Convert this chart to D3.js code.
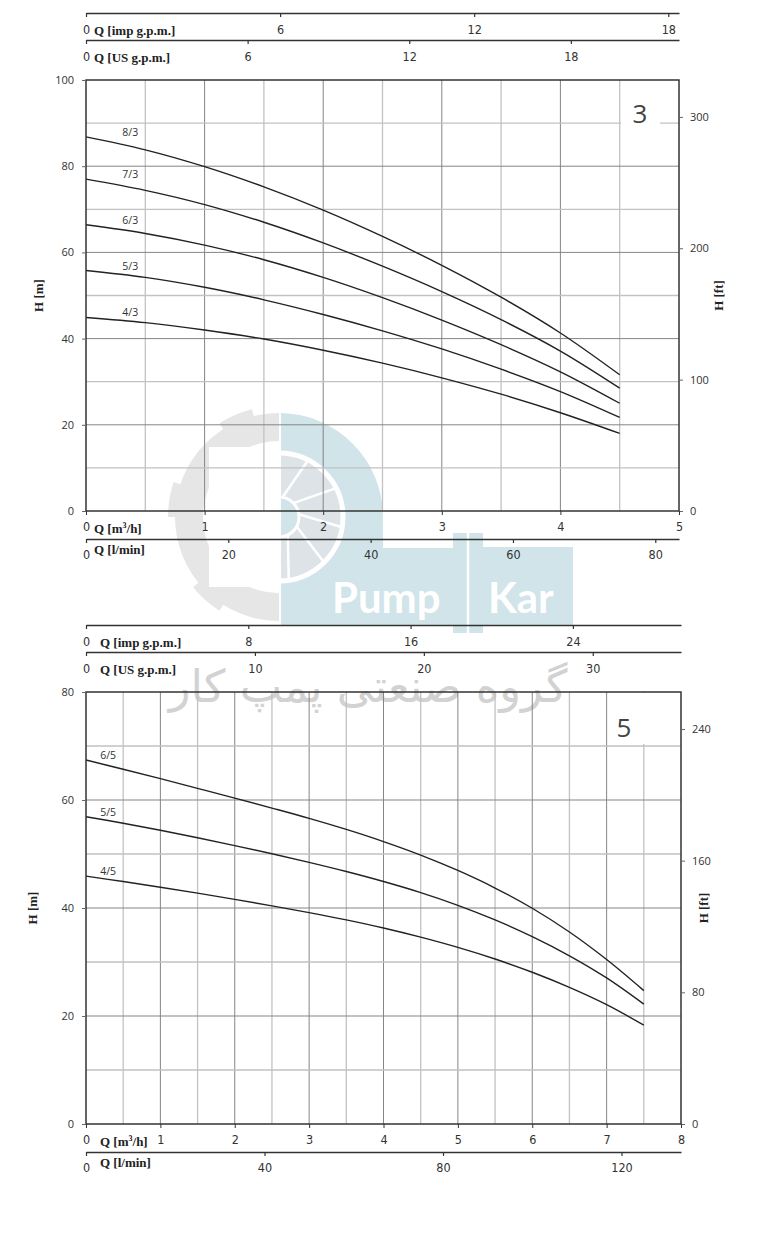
<!DOCTYPE html>
<html>
<head>
<meta charset="utf-8">
<script src="https://cdn.jsdelivr.net/npm/d3@7"></script>
<style>
  body { margin: 0; background: #fff; }
  svg { display: block; }
  .tick text { font-family: "Liberation Sans Narrow", "DejaVu Sans Condensed", sans-serif; font-size: 12.5px; fill: #333; }
  .yaxis .tick text { font-family: "Open Sans", "DejaVu Sans", sans-serif; font-size: 11px; }
  .title { font-family: "Liberation Serif", "DejaVu Serif", serif; font-weight: bold; font-size: 13px; fill: #222; }
  .curve-label { font-family: "Open Sans", "DejaVu Sans", sans-serif; font-size: 10.5px; fill: #333; }
</style>
</head>
<body>
<svg id="chart" width="777" height="1239"></svg>
<script>
// Pump curves H(Q), two series (3 and 5)

// --- series 3 : Q in m3/h, H in m
const q3 = [0, 0.5, 1, 1.5, 2, 2.5, 3, 3.5, 4, 4.5];
const h_8_3 = [86.8, 83.8, 79.9, 75.2, 69.8, 63.7, 57.0, 49.6, 41.3, 31.6];
const h_7_3 = [77.0, 74.4, 71.1, 67.0, 62.2, 56.8, 50.9, 44.4, 37.1, 28.5];
const h_6_3 = [66.4, 64.4, 61.7, 58.3, 54.2, 49.5, 44.3, 38.6, 32.3, 25.0];
const h_5_3 = [55.8, 54.2, 51.9, 49.0, 45.6, 41.8, 37.6, 32.9, 27.7, 21.7];
const h_4_3 = [44.9, 43.7, 42.0, 39.9, 37.3, 34.3, 30.9, 27.1, 22.8, 18.0];
const names3 = ['8/3', '7/3', '6/3', '5/3', '4/3'];

// --- series 5
const q5 = [0, 0.5, 1, 1.5, 2, 2.5, 3, 3.5, 4, 4.5, 5, 5.5, 6, 6.5, 7, 7.5];
const h_6_5 = [67.4, 65.7, 63.95, 62.15, 60.35, 58.5, 56.6, 54.55, 52.3, 49.8, 46.95, 43.7, 39.95, 35.55, 30.45, 24.7];
const h_5_5 = [56.9, 55.7, 54.4, 53.0, 51.55, 50.05, 48.45, 46.75, 44.9, 42.85, 40.5, 37.8, 34.7, 31.15, 27.05, 22.2];
const h_4_5 = [45.9, 44.9, 43.85, 42.75, 41.6, 40.4, 39.15, 37.8, 36.3, 34.6, 32.7, 30.55, 28.1, 25.3, 22.1, 18.3];
const names5 = ['6/5', '5/5', '4/5'];

// axis ticks
const hTicks3 = [0, 20, 40, 60, 80, 100];
const ftTicks3 = [0, 100, 200, 300];
const impTicks3 = [0, 6, 12, 18];
const usTicks3 = [0, 6, 12, 18];
const lminTicks3 = [0, 20, 40, 60, 80];
const hTicks5 = [0, 20, 40, 60, 80];
const ftTicks5 = [0, 80, 160, 240];
const impTicks5 = [0, 8, 16, 24];
const usTicks5 = [0, 10, 20, 30];
const lminTicks5 = [0, 40, 80, 120];

// unit conversions from m3/h
const IMP = 1000 / 60 / 4.54609;
const USG = 1000 / 60 / 3.785411784;
const LMIN = 1000 / 60;
const FT = 0.3048;

const svg = d3.select('#chart');

drawWatermark();

drawPanel({
  left: 86, right: 679, top: 80, bottom: 511,
  xMax: 5, yMax: 100,
  q: q3, heads: [h_8_3, h_7_3, h_6_3, h_5_3, h_4_3], names: names3,
  hTicks: hTicks3, ftTicks: ftTicks3, impTicks: impTicks3, usTicks: usTicks3, lminTicks: lminTicks3,
  tag: '3', tagBox: [621, 96, 39, 32], tagPos: [640, 123], titleX: 94, hmX: 38, hftX: 718
});

drawPanel({
  left: 86, right: 681, top: 692, bottom: 1124,
  xMax: 8, yMax: 80,
  q: q5, heads: [h_6_5, h_5_5, h_4_5], names: names5,
  hTicks: hTicks5, ftTicks: ftTicks5, impTicks: impTicks5, usTicks: usTicks5, lminTicks: lminTicks5,
  tag: '5', tagBox: [611, 693, 51, 51], tagPos: [624, 737], titleX: 100, hmX: 32, hftX: 703
});

function drawPanel (p) {
  const g = svg.append('g');
  const x = d3.scaleLinear().domain([0, p.xMax]).range([p.left, p.right]);
  const y = d3.scaleLinear().domain([0, p.yMax]).range([p.bottom, p.top]);
  const yFt = d3.scaleLinear().domain([0, p.yMax / FT]).range([p.bottom, p.top]);

  // grid
  const grid = g.append('g');
  d3.range(0.5, p.xMax, 0.5).forEach(v => {
    grid.append('line')
      .attr('x1', x(v)).attr('x2', x(v)).attr('y1', p.top).attr('y2', p.bottom)
      .attr('stroke', v % 1 === 0 ? '#858585' : '#c2c2c2')
      .attr('stroke-width', v % 1 === 0 ? 1 : 1.3);
  });
  d3.range(10, p.yMax, 10).forEach(v => {
    grid.append('line')
      .attr('y1', y(v)).attr('y2', y(v)).attr('x1', p.left).attr('x2', p.right)
      .attr('stroke', v % 20 === 0 ? '#858585' : '#c2c2c2')
      .attr('stroke-width', v % 20 === 0 ? 1 : 1.3);
  });

  // tag box
  g.append('rect')
    .attr('x', p.tagBox[0]).attr('y', p.tagBox[1])
    .attr('width', p.tagBox[2]).attr('height', p.tagBox[3])
    .attr('fill', '#fff');
  g.append('text')
    .attr('x', p.tagPos[0])
    .attr('y', p.tagPos[1])
    .attr('text-anchor', 'middle')
    .style('font-family', '"Open Sans", "DejaVu Sans", sans-serif')
    .style('font-size', '26px').style('fill', '#444')
    .text(p.tag);

  // curves
  const line = d3.line()
    .x((d, i) => x(p.q[i]))
    .y(d => y(d))
    .curve(d3.curveCatmullRom);

  p.heads.forEach((h, k) => {
    g.append('path')
      .attr('d', line(h))
      .attr('fill', 'none')
      .attr('stroke', '#222')
      .attr('stroke-width', 1.4);
    g.append('text')
      .attr('class', 'curve-label')
      .attr('x', x(p.q[1]) - 15)
      .attr('y', y(h[0]) - 1)
      .attr('text-anchor', 'middle')
      .text(p.names[k]);
  });

  // frame
  g.append('rect')
    .attr('x', p.left).attr('y', p.top)
    .attr('width', p.right - p.left).attr('height', p.bottom - p.top)
    .attr('fill', 'none').attr('stroke', '#333').attr('stroke-width', 1.5);

  // left axis H [m]
  const yAx = g.append('g').attr('class', 'yaxis')
    .attr('transform', `translate(${p.left},0)`)
    .call(d3.axisLeft(y).tickValues(p.hTicks).tickSize(4).tickPadding(8));
  yAx.select('.domain').remove();
  yAx.selectAll('line').attr('stroke', '#666');

  // right axis H [ft]
  const ftAx = g.append('g').attr('class', 'yaxis')
    .attr('transform', `translate(${p.right},0)`)
    .call(d3.axisRight(yFt).tickValues(p.ftTicks).tickSize(4).tickPadding(7));
  ftAx.select('.domain').remove();
  ftAx.selectAll('line').attr('stroke', '#666');

  g.append('text').attr('class', 'title')
    .attr('transform', `translate(${p.hmX},${(p.top + p.bottom) / 2}) rotate(-90)`)
    .attr('text-anchor', 'middle').attr('dy', '0.35em')
    .text('H [m]');
  g.append('text').attr('class', 'title')
    .attr('transform', `translate(${p.hftX},${(p.top + p.bottom) / 2}) rotate(-90)`)
    .attr('text-anchor', 'middle').attr('dy', '0.35em')
    .text('H [ft]');

  // bottom axis m3/h (on frame)
  const xAx = g.append('g')
    .attr('transform', `translate(0,${p.bottom})`)
    .call(d3.axisBottom(x).ticks(p.xMax).tickFormat(d3.format('d')).tickSize(4).tickPadding(7));
  xAx.select('.domain').remove();
  xAx.selectAll('line').attr('stroke', '#333');
  g.append('text').attr('class', 'title')
    .attr('x', p.titleX).attr('y', p.bottom + 22)
    .html('Q [m<tspan dy="-5" font-size="8">3</tspan><tspan dy="5">/h]</tspan>');

  // l/min
  unitAxis(g, x.copy().domain([0, p.xMax * LMIN]), p.lminTicks, p.bottom + 28, 7);
  g.append('text').attr('class', 'title')
    .attr('x', p.titleX).attr('y', p.bottom + 43)
    .text('Q [l/min]');

  // imp / US gpm above
  unitAxis(g, x.copy().domain([0, p.xMax * IMP]), p.impTicks, p.top - 67, 8);
  g.append('text').attr('class', 'title')
    .attr('x', p.titleX).attr('y', p.top - 45)
    .text('Q [imp g.p.m.]');
  unitAxis(g, x.copy().domain([0, p.xMax * USG]), p.usTicks, p.top - 40, 8);
  g.append('text').attr('class', 'title')
    .attr('x', p.titleX).attr('y', p.top - 18)
    .text('Q [US g.p.m.]');
}

function unitAxis (g, scale, ticks, yPos, pad) {
  const a = g.append('g')
    .attr('transform', `translate(0,${yPos})`)
    .call(d3.axisBottom(scale).tickValues(ticks).tickSize(4).tickSizeOuter(0).tickPadding(pad));
  a.select('.domain').attr('stroke', '#333').attr('stroke-width', 1.5);
  a.selectAll('line').attr('stroke', '#333').attr('stroke-width', 1.2);
}

function drawWatermark () {
  const w = svg.append('g').attr('class', 'watermark');
  const cx = 279, cy = 517;
  const grey = '#e6e6e6', blue = '#d0e4e9';

  // gear half ring
  w.append('path')
    .attr('transform', `translate(${cx},${cy})`)
    .attr('d', d3.arc()({ innerRadius: 76, outerRadius: 104, startAngle: Math.PI, endAngle: 2 * Math.PI }))
    .attr('fill', grey);
  [1.18, 1.5, 1.82].map(t => t * Math.PI).forEach(a0 => {
    w.append('path')
      .attr('transform', `translate(${cx},${cy})`)
      .attr('d', d3.arc()({ innerRadius: 100, outerRadius: 111, startAngle: a0, endAngle: a0 + 0.32 }))
      .attr('fill', grey);
  });

  // blue D + base
  w.append('path')
    .attr('d', `M${cx + 2},413 A104,104 0 0 1 383,${cy} L383,548 L453,548 L453,533 L483,533 L483,547 L573,547 L573,625
      L483,625 L483,633 L453,633 L453,625 L${cx + 2},625 Z`)
    .attr('fill', blue);
  w.append('line')
    .attr('x1', 468).attr('x2', 468).attr('y1', 530).attr('y2', 636)
    .attr('stroke', '#fff').attr('stroke-width', 2.5);

  // turbine inside
  w.append('circle').attr('cx', cx).attr('cy', cy).attr('r', 64)
    .attr('fill', '#dde3e6').attr('stroke', '#fff').attr('stroke-width', 5);
  w.append('rect').attr('x', cx - 70).attr('y', cy - 70).attr('width', 72).attr('height', 140).attr('fill', '#fff');
  d3.range(-80, 81, 36).forEach(deg => {
    const r = deg * Math.PI / 180;
    w.append('line')
      .attr('x1', cx + 20 * Math.cos(r)).attr('y1', cy + 20 * Math.sin(r))
      .attr('x2', cx + 64 * Math.cos(r + 0.3)).attr('y2', cy + 64 * Math.sin(r + 0.3))
      .attr('stroke', '#fff').attr('stroke-width', 2.5);
  });
  w.append('circle').attr('cx', cx).attr('cy', cy).attr('r', 20)
    .attr('fill', blue).attr('stroke', '#fff').attr('stroke-width', 3);
  w.append('rect').attr('x', cx - 24).attr('y', cy - 24).attr('width', 26).attr('height', 48).attr('fill', '#fff');

  w.append('text')
    .attr('x', 332).attr('y', 613)
    .style('font-family', 'Lato, "Open Sans", sans-serif').style('font-weight', 'bold')
    .style('font-size', '42px').style('fill', '#fff')
    .text('Pump');
  w.append('text')
    .attr('x', 488).attr('y', 613)
    .style('font-family', 'Lato, "Open Sans", sans-serif').style('font-weight', 'bold')
    .style('font-size', '42px').style('fill', '#fff')
    .text('Kar');

  w.append('text')
    .attr('x', 368).attr('y', 702)
    .attr('text-anchor', 'middle')
    .attr('direction', 'rtl')
    .style('font-family', '"DejaVu Sans", sans-serif')
    .style('font-size', '45px').style('fill', '#d2d2d2')
    .text('گروه صنعتی پمپ کار');
}
</script>
</body>
</html>
